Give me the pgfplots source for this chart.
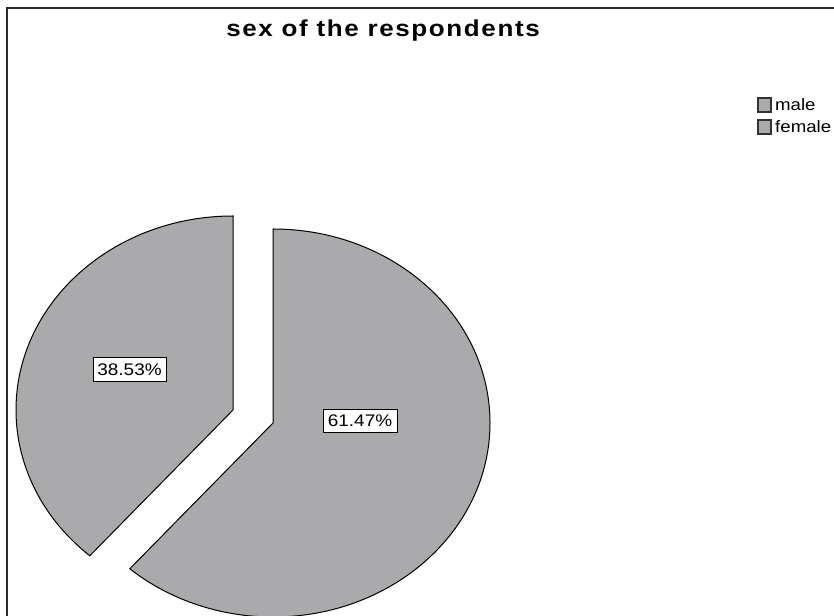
\documentclass[border=0pt]{standalone}
\usepackage{fontspec}
\setmainfont{Liberation Sans}[FakeStretch=1.13]
\newfontfamily\titlefont{Liberation Sans}[FakeStretch=1.13,LetterSpace=7]
\usepackage{pgfplots}
\usepackage{pgfplotstable}
\pgfplotsset{compat=1.18}
\pgfkeys{/pgf/number format/assume math mode=true}
\definecolor{slice}{RGB}{170,170,172}
\definecolor{framec}{RGB}{40,40,40}

\pgfplotstableread{
label value
male 61.47
female 38.53
}\piedata

\begin{document}
\begin{tikzpicture}
\pgfplotstablegetelem{0}{value}\of\piedata \let\maleval\pgfplotsretval
\pgfplotstablegetelem{1}{value}\of\piedata \let\femaleval\pgfplotsretval
\pgfmathsetmacro{\maleend}{90-3.6*\maleval}
\pgfmathsetmacro{\femaleend}{90+3.6*\femaleval}
\begin{axis}[at={(0,0)},anchor=south west,width=834bp,height=616bp,scale only axis,
  xmin=0,xmax=834,ymin=0,ymax=616,hide axis,clip=false,
  /pgf/number format/assume math mode=true]
% frame
\draw[framec,line width=1.5bp] (axis cs:7,-5) -- (axis cs:7,608) -- (axis cs:840,608);
% title
\node[anchor=base,font=\titlefont\fontsize{23bp}{27bp}\selectfont\bfseries] at (axis cs:383,579) {sex of the respondents};
% male slice
\filldraw[fill=slice,draw=black,line width=1bp] (axis cs:273,193) -- (axis cs:273,387)
  arc[start angle=90,end angle=\maleend,x radius=217bp,y radius=194bp] -- cycle;
% female slice (exploded)
\filldraw[fill=slice,draw=black,line width=1bp] (axis cs:233,206) -- (axis cs:233,400)
  arc[start angle=90,end angle=\femaleend,x radius=217bp,y radius=194bp] -- cycle;
% labels
\node[draw=black,fill=white,line width=1bp,minimum width=74bp,minimum height=23bp,inner sep=0pt,
  font=\fontsize{16.8bp}{20bp}\selectfont] at (axis cs:360,195) {\pgfmathprintnumber[fixed,precision=2,fixed zerofill,assume math mode=true]{\maleval}\%};
\node[draw=black,fill=white,line width=1bp,minimum width=73bp,minimum height=24bp,inner sep=0pt,
  font=\fontsize{16.8bp}{20bp}\selectfont] at (axis cs:129.5,246) {\pgfmathprintnumber[fixed,precision=2,fixed zerofill,assume math mode=true]{\femaleval}\%};
% legend
\filldraw[fill=slice,draw=black!80,line width=1.5bp] (axis cs:758,504) rectangle (axis cs:771,518);
\filldraw[fill=slice,draw=black!80,line width=1.5bp] (axis cs:758,482) rectangle (axis cs:771,496);
\node[anchor=west,inner sep=0pt,font=\fontsize{16.5bp}{19bp}\selectfont] at (axis cs:775,511) {male};
\node[anchor=west,inner sep=0pt,font=\fontsize{16.5bp}{19bp}\selectfont] at (axis cs:775,489) {female};
\end{axis}
\pgfresetboundingbox
\path[use as bounding box] (0,0) rectangle (834bp,616bp);
\end{tikzpicture}
\end{document}
